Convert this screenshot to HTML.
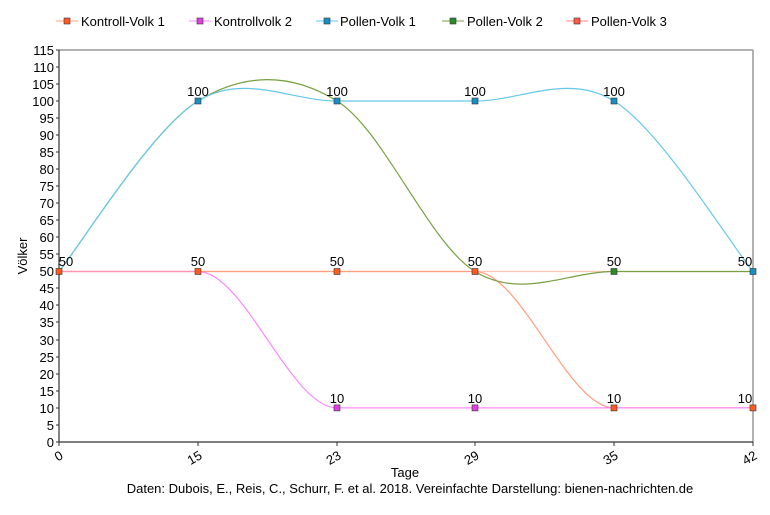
<!DOCTYPE html>
<html><head><meta charset="utf-8"><style>body{margin:0;background:#fff}svg{display:block;font-family:"Liberation Sans",Arial,sans-serif}</style></head><body>
<svg width="770" height="515" viewBox="0 0 770 515" xmlns="http://www.w3.org/2000/svg">
<rect width="770" height="515" fill="#fff"/>
<!-- legend -->
<g font-size="13" fill="#000">
<line x1="56" y1="21" x2="78" y2="21" stroke="#ff9f80"/><rect x="64" y="18" width="6" height="6" fill="#ff5a1f" stroke="#333" stroke-width="0.6"/><text x="81" y="26">Kontroll-Volk 1</text>
<line x1="189" y1="21" x2="211" y2="21" stroke="#ff88ff"/><rect x="197" y="18" width="6" height="6" fill="#e040e0" stroke="#333" stroke-width="0.6"/><text x="214" y="26">Kontrollvolk 2</text>
<line x1="316" y1="21" x2="338" y2="21" stroke="#66c8e8"/><rect x="324" y="18" width="6" height="6" fill="#1a8fc6" stroke="#333" stroke-width="0.6"/><text x="340" y="26">Pollen-Volk 1</text>
<line x1="442" y1="21" x2="464" y2="21" stroke="#77a040"/><rect x="450" y="18" width="6" height="6" fill="#2a8a2a" stroke="#333" stroke-width="0.6"/><text x="467" y="26">Pollen-Volk 2</text>
<line x1="566" y1="21" x2="588" y2="21" stroke="#ff8080"/><rect x="574" y="18" width="6" height="6" fill="#ff5a4a" stroke="#333" stroke-width="0.6"/><text x="591" y="26">Pollen-Volk 3</text>
</g>
<!-- frame -->
<line x1="59" y1="50" x2="753" y2="50" stroke="#999" stroke-width="1.5"/>
<line x1="753" y1="50" x2="753" y2="442" stroke="#999" stroke-width="1.5"/>
<line x1="59" y1="50" x2="59" y2="442" stroke="#333" stroke-width="1.2"/>
<line x1="59" y1="442" x2="753" y2="442" stroke="#333" stroke-width="1.2"/>
<!-- y ticks -->
<g font-size="13" text-anchor="end" fill="#000" stroke="#333">
<g id="yt"></g>
</g>
<g font-size="13" text-anchor="end" fill="#000">
<text x="54" y="447">0</text><text x="54" y="430">5</text><text x="54" y="413">10</text><text x="54" y="396">15</text><text x="54" y="379">20</text><text x="54" y="362">25</text><text x="54" y="345">30</text><text x="54" y="327">35</text><text x="54" y="310">40</text><text x="54" y="293">45</text><text x="54" y="276">50</text><text x="54" y="259">55</text><text x="54" y="242">60</text><text x="54" y="225">65</text><text x="54" y="208">70</text><text x="54" y="191">75</text><text x="54" y="174">80</text><text x="54" y="157">85</text><text x="54" y="140">90</text><text x="54" y="123">95</text><text x="54" y="106">100</text><text x="54" y="89">105</text><text x="54" y="72">110</text><text x="54" y="55">115</text>
</g>
<g stroke="#333" stroke-width="1">
<path d="M56 442h3M56 425h3M56 408h3M56 391h3M56 374h3M56 357h3M56 340h3M56 322h3M56 305h3M56 288h3M56 271h3M56 254h3M56 237h3M56 220h3M56 203h3M56 186h3M56 169h3M56 152h3M56 135h3M56 118h3M56 101h3M56 84h3M56 67h3M56 50h3"/>
<path d="M59 442v4M198 442v4M337 442v4M475 442v4M614 442v4M753 442v4"/>
</g>
<!-- x labels -->
<g font-size="13" text-anchor="end" fill="#000">
<text transform="translate(64,458) rotate(-30)">0</text>
<text transform="translate(203,458) rotate(-30)">15</text>
<text transform="translate(342,458) rotate(-30)">23</text>
<text transform="translate(480,458) rotate(-30)">29</text>
<text transform="translate(619,458) rotate(-30)">35</text>
<text transform="translate(758,458) rotate(-30)">42</text>
</g>
<text x="405" y="477" font-size="13" text-anchor="middle">Tage</text>
<text x="410" y="493" font-size="13" text-anchor="middle">Daten: Dubois, E., Reis, C., Schurr, F. et al. 2018. Vereinfachte Darstellung: bienen-nachrichten.de</text>
<text transform="translate(27,256) rotate(-90)" font-size="13" text-anchor="middle">Völker</text>
<!-- series -->
<g fill="none" stroke-width="1.2">
<path d="M59 271.5 L475 271.5 C521 271.5 568 407.9 614 407.9 L753 407.9" stroke="#ff9f80"/>
<path d="M59 271.5 L198 271.5 C244.3 271.5 290.8 407.9 337 407.9 L753 407.9" stroke="#ff88ff"/>
<path d="M59 271.5 L753 271.5" stroke="#ff9f80" opacity="0.6"/>
<path d="M59 271.5 C82 243 151.7 129.4 198 101 C244.3 72.6 290.8 72.6 337 101 C383.3 129.4 428.8 243.1 475 271.5 C521.3 299.9 567.7 271.5 614 271.5 L753 271.5" stroke="#77a040"/>
<path d="M59 271.5 C82 243 151.7 129.4 198 101 C244.3 72.6 290.8 101 337 101 L475 101 C521.2 101 567.7 72.6 614 101 C660.3 129.4 729.8 243 753 271.5" stroke="#66c8e8"/>
</g>
<!-- markers -->
<g stroke="#333" stroke-width="0.6">
<g fill="#ff5a1f"><rect x="56" y="268.5" width="6" height="6"/><rect x="195" y="268.5" width="6" height="6"/><rect x="334" y="268.5" width="6" height="6"/><rect x="472" y="268.5" width="6" height="6"/><rect x="611" y="404.9" width="6" height="6"/><rect x="750" y="404.9" width="6" height="6"/></g>
<g fill="#e040e0"><rect x="334" y="404.9" width="6" height="6"/><rect x="472" y="404.9" width="6" height="6"/></g>
<g fill="#2a8a2a"><rect x="611" y="268.5" width="6" height="6"/></g>
<g fill="#1a8fc6"><rect x="195" y="98" width="6" height="6"/><rect x="334" y="98" width="6" height="6"/><rect x="472" y="98" width="6" height="6"/><rect x="611" y="98" width="6" height="6"/><rect x="750" y="268.5" width="6" height="6"/></g>
</g>
<!-- data labels -->
<g font-size="13" text-anchor="middle" fill="#000">
<text x="198" y="96">100</text><text x="337" y="96">100</text><text x="475" y="96">100</text><text x="614" y="96">100</text>
<text x="66" y="266">50</text><text x="198" y="266">50</text><text x="337" y="266">50</text><text x="475" y="266">50</text><text x="614" y="266">50</text><text x="745" y="266">50</text>
<text x="337" y="403">10</text><text x="475" y="403">10</text><text x="614" y="403">10</text><text x="745" y="403">10</text>
</g>
</svg>
</body></html>
